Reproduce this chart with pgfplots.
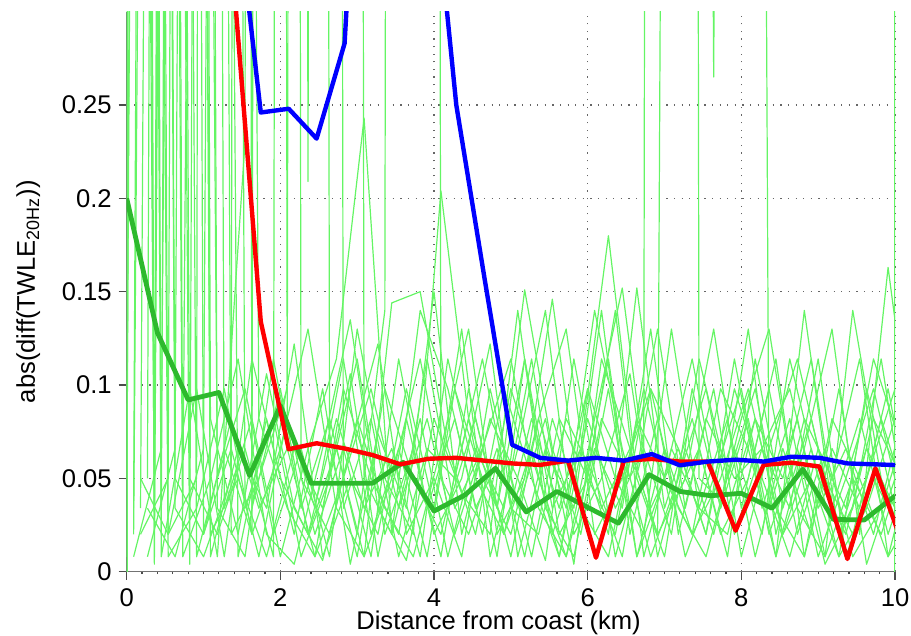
\documentclass[border=0pt]{standalone}
\usepackage{fontspec}
\setmainfont{Liberation Sans}
\usepackage{pgfplots}
\usepackage{pgfplotstable}
\pgfplotsset{compat=1.18}

\definecolor{TrackGreen}{RGB}{100,245,100}
\definecolor{MeanGreen}{RGB}{45,185,45}

% individual 20 Hz tracks, four along-track phases
\pgfplotstableread{
x     a1    a2    a3    a4    a5
0.00  3.000 0.008 4.000 0.050 2.000
0.36  0.004 3.500 0.020 2.500 0.034
0.73  2.500 0.034 3.000 0.008 4.000
1.09  0.020 2.000 0.008 0.050 0.082
1.45  0.050 0.008 0.066 0.114 0.020
1.82  0.008 0.082 0.034 0.020 0.106
2.18  0.066 0.020 0.122 0.004 0.034
2.55  0.034 0.098 0.008 0.066 0.006
2.91  0.106 0.004 0.050 0.135 0.066
3.27  0.008 0.074 0.020 0.034 0.122
3.64  0.082 0.034 0.098 0.006 0.020
4.00  0.020 0.150 0.034 0.082 0.050
4.36  0.050 0.020 0.130 0.042 0.008
4.73  0.122 0.082 0.008 0.020 0.098
5.09  0.008 0.050 0.066 0.140 0.034
5.45  0.066 0.006 0.140 0.034 0.082
5.82  0.034 0.114 0.020 0.008 0.004
6.18  0.140 0.034 0.050 0.082 0.114
6.55  0.020 0.066 0.106 0.050 0.066
6.91  0.082 0.020 0.008 0.130 0.020
7.27  0.008 3.000 0.066 0.034 0.050
7.64  0.050 0.265 0.020 0.098 0.130
8.00  0.098 3.000 0.082 0.008 0.034
8.36  0.020 0.034 0.130 0.066 0.098
8.73  0.066 0.082 0.034 0.114 0.020
9.09  0.004 0.008 0.008 0.050 0.066
9.45  0.034 0.050 0.140 0.020 0.008
9.82  0.114 0.020 0.050 0.082 0.034
10.18 0.020 0.066 0.008 0.034 0.082
}\grpA

\pgfplotstableread{
x     b1    b2    b3    b4    b5
0.09  0.020 4.000 0.034 2.500 0.008
0.45  2.000 0.008 3.000 0.020 0.066
0.82  0.004 0.098 0.050 3.500 2.000
1.18  3.500 0.008 0.020 0.034 0.050
1.54  0.034 0.230 0.066 0.008 0.098
1.91  0.082 9.000 0.008 0.114 0.020
2.27  0.008 0.050 9.000 0.034 0.066
2.64  0.050 0.020 0.066 0.082 0.008
3.00  0.114 0.082 0.008 0.020 0.130
3.36  0.020 0.034 0.098 0.140 0.050
3.73  0.066 0.008 0.050 9.000 0.020
4.09  0.008 0.066 0.020 0.050 0.204
4.45  0.098 0.130 0.082 0.020 0.082
4.82  0.034 0.020 0.008 0.066 0.034
5.18  0.151 0.050 0.114 0.008 0.114
5.54  0.066 0.146 0.034 0.082 0.020
5.91  0.020 0.034 0.066 0.034 0.066
6.27  0.098 0.008 0.020 0.114 0.180
6.64  0.008 0.082 0.152 0.008 0.050
7.00  0.050 0.050 0.034 0.066 0.008
7.36  0.114 0.020 0.082 0.020 0.098
7.73  0.034 0.098 0.020 0.050 0.034
8.09  0.082 0.066 0.050 0.098 0.130
8.45  0.008 0.008 0.114 0.034 0.020
8.82  0.066 0.140 0.008 0.008 0.082
9.18  0.130 0.034 0.066 0.082 0.050
9.54  0.020 0.082 0.034 0.050 0.114
9.91  0.163 0.020 0.098 0.008 0.008
10.27 0.050 0.066 0.020 0.034 0.066
}\grpB

\pgfplotstableread{
x     c1    c2    c3    c4    c5
0.18  3.000 0.034 0.020 2.000 0.050
0.54  0.020 2.500 0.050 0.008 0.020
0.91  0.050 0.008 4.000 0.034 0.098
1.27  9.000 0.066 0.034 0.098 0.008
1.63  0.034 0.020 0.082 0.020 0.114
2.00  0.098 9.000 0.008 0.066 0.050
2.36  0.020 0.209 0.066 0.130 0.020
2.73  0.066 9.000 0.114 0.034 0.082
3.09  0.008 0.050 0.243 0.008 0.034
3.45  0.050 0.020 0.020 0.144 0.066
3.82  0.114 0.082 0.140 0.150 0.008
4.18  0.034 0.008 0.098 0.066 0.114
4.54  0.082 0.066 0.034 0.020 0.050
4.91  0.020 0.034 0.066 0.098 0.020
5.27  0.066 0.114 0.008 0.050 0.082
5.63  0.008 0.020 0.082 0.008 0.034
6.00  0.098 0.050 0.050 0.082 0.098
6.36  0.050 0.140 0.020 0.034 0.008
6.73  0.020 0.008 0.098 0.066 0.066
7.09  0.130 0.066 0.034 0.020 9.000
7.45  0.034 0.034 0.066 0.114 0.050
7.82  0.082 0.020 0.008 0.050 0.034
8.18  0.008 0.082 0.114 0.098 0.082
8.54  0.066 0.050 0.034 0.020 0.020
8.91  0.020 0.114 0.082 0.066 0.050
9.27  0.098 0.020 0.020 0.008 0.008
9.63  0.004 0.066 0.050 0.034 0.098
10.00 0.050 0.034 0.098 0.082 0.034
10.36 0.020 0.008 0.034 0.020 0.066
}\grpC

\pgfplotstableread{
x     d1    d2    d3    d4    d5
0.27  0.050 2.500 0.008 0.034 3.000
0.63  4.000 0.034 0.066 0.008 0.050
1.00  0.020 0.008 3.000 0.066 0.020
1.36  0.066 0.050 0.020 2.500 0.082
1.72  0.008 9.000 0.050 0.082 0.034
2.09  0.082 0.082 0.098 0.034 0.066
2.45  0.034 0.020 9.000 0.008 0.008
2.82  0.114 0.066 0.034 0.098 0.050
3.18  0.020 0.008 0.082 0.050 0.098
3.54  0.066 0.114 0.008 0.020 0.034
3.91  0.008 0.034 0.066 0.114 0.082
4.27  0.098 0.082 0.050 0.034 0.020
4.63  0.050 0.020 0.114 0.066 0.066
5.00  0.020 0.098 0.034 0.008 0.114
5.36  0.082 0.050 0.020 0.082 0.034
5.72  0.034 0.008 0.082 0.130 0.008
6.09  0.140 0.066 0.050 0.020 0.082
6.45  0.066 0.034 0.008 0.050 0.152
6.82  0.008 0.130 0.098 0.098 0.034
7.18  0.050 0.020 0.066 0.034 0.066
7.54  0.098 0.082 0.020 0.008 0.020
7.91  0.020 0.050 0.114 0.066 0.098
8.27  0.066 0.066 0.034 0.020 0.050
8.63  0.034 0.098 0.082 0.114 0.008
9.00  0.114 0.034 0.008 0.050 0.066
9.36  0.008 0.066 0.050 0.020 0.034
9.72  0.050 0.020 0.098 0.082 0.114
10.09 0.020 0.082 0.034 0.050 0.066
10.45 0.066 0.008 0.020 0.098 0.040
}\grpD

\begin{document}
\begin{tikzpicture}
\begin{axis}[
  scale only axis,
  width=384.15pt, height=280pt,
  xmin=0, xmax=10, ymin=0, ymax=0.3,
  axis lines*=left,
  axis line style={black!55, line width=0.6pt},
  xtick={0,2,4,6,8,10},
  ytick={0,0.05,0.1,0.15,0.2,0.25},
  yticklabels={0,0.05,0.1,0.15,0.2,0.25},
  minor x tick num=9,
  tick align=outside,
  major tick length=4pt, minor tick length=1.2pt,
  tick style={black!70, line width=0.6pt},
  grid=major,
  major grid style={black!60, line width=0.6pt, dash pattern=on 0.6pt off 3.2pt},
  /pgf/number format/assume math mode=true,
  tick label style={font=\fontsize{12.8}{14}\selectfont},
  xticklabel style={yshift=-1pt},
  label style={font=\fontsize{12.8}{14}\selectfont},
  xlabel={Distance from coast (km)},
  ylabel={abs(diff(TWLE\textsubscript{20Hz}))},
  xlabel style={at={(axis description cs:0.484,-0.1041)}, anchor=base},
  ylabel style={at={(axis description cs:-0.1280,0.5)}, anchor=center},
  track/.style={TrackGreen, line width=0.6pt, line join=round},
]
\pgfplotsinvokeforeach{a1,a2,a3,a4,a5}{\addplot[track] table[x=x, y=#1] {\grpA};}
\pgfplotsinvokeforeach{b1,b2,b3,b4,b5}{\addplot[track] table[x=x, y=#1] {\grpB};}
\pgfplotsinvokeforeach{c1,c2,c3,c4,c5}{\addplot[track] table[x=x, y=#1] {\grpC};}
\pgfplotsinvokeforeach{d1,d2,d3,d4,d5}{\addplot[track] table[x=x, y=#1] {\grpD};}
\addplot[track, line width=1.2pt] coordinates {(0,0) (0,0.8)};
\addplot[track, line width=1.2pt] coordinates {(10,0) (10,0.8)};

% mean of the tracks
\addplot[MeanGreen, line width=2.4pt, line join=round] coordinates {
  (0,0.200) (0.4,0.128) (0.8,0.092) (1.2,0.096) (1.6,0.0515) (2.0,0.089)
  (2.4,0.0474) (2.8,0.0474) (3.2,0.0474) (3.6,0.0586) (4.0,0.0325) (4.4,0.041)
  (4.8,0.0554) (5.2,0.032) (5.6,0.043) (6.0,0.0345) (6.4,0.026) (6.8,0.052)
  (7.2,0.043) (7.6,0.0407) (8.0,0.042) (8.4,0.034) (8.8,0.0549) (9.2,0.028)
  (9.6,0.0277) (10.0,0.0406)};

\addplot[red, line width=2.2pt, line join=round] coordinates {
  (1.018,0.60) (1.381,0.322) (1.745,0.134) (2.109,0.0656) (2.472,0.0688)
  (2.836,0.066) (3.199,0.0625) (3.563,0.0575) (3.927,0.0605) (4.290,0.061)
  (4.654,0.0595) (5.017,0.058) (5.381,0.0572) (5.745,0.0595) (6.108,0.0075)
  (6.472,0.0595) (6.836,0.0604) (7.199,0.059) (7.563,0.059) (7.926,0.022)
  (8.290,0.0572) (8.654,0.0584) (9.017,0.0563) (9.381,0.0068) (9.745,0.0554)
  (10.108,0.0135)};

\addplot[blue, line width=2.2pt, line join=round] coordinates {
  (1.018,0.80) (1.381,0.378) (1.745,0.246) (2.109,0.248) (2.472,0.232)
  (2.836,0.283) (3.199,0.55) (3.563,0.62) (3.927,0.40) (4.290,0.25)
  (4.654,0.158) (5.017,0.068) (5.381,0.061) (5.745,0.0595) (6.108,0.061)
  (6.472,0.0595) (6.836,0.063) (7.199,0.057) (7.563,0.059) (7.926,0.060)
  (8.290,0.059) (8.654,0.0616) (9.017,0.061) (9.381,0.058) (9.745,0.0575)
  (10.108,0.057)};
\end{axis}
\pgfresetboundingbox
\path[use as bounding box] ([shift={(-63.35pt,-32.15pt)}]current axis.south west)
  rectangle ([shift={(8pt,5.85pt)}]current axis.north east);
\end{tikzpicture}
\end{document}
